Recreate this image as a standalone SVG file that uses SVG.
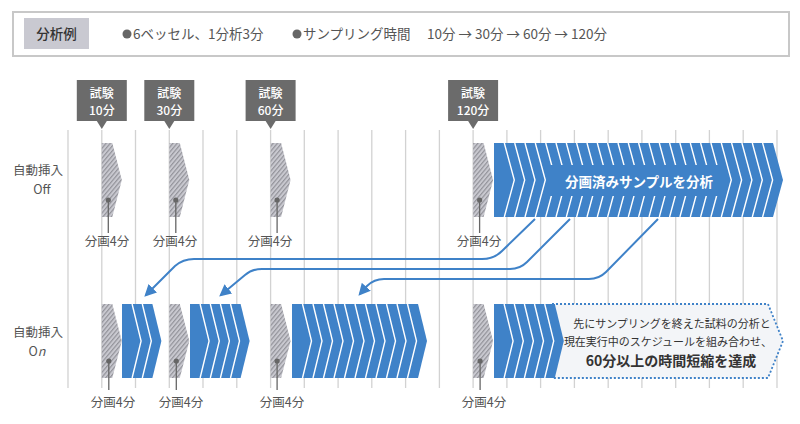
<svg xmlns="http://www.w3.org/2000/svg" width="800" height="424" viewBox="0 0 800 424">
<defs>
<pattern id="hatch" patternUnits="userSpaceOnUse" width="3.2" height="3.2" patternTransform="rotate(40)">
<rect width="3.2" height="3.2" fill="#c9c9d0"/>
<line x1="0.6" y1="0" x2="0.6" y2="3.2" stroke="#8f8f96" stroke-width="1.1"/>
</pattern>
<marker id="ah" viewBox="0 0 10 10" refX="8" refY="5" markerWidth="6" markerHeight="6" markerUnits="strokeWidth" orient="auto">
<path d="M0,0 L10,5 L0,10 z" fill="#3f82c8"/>
</marker>
<style>
text{font-family:"Noto Sans CJK JP","Noto Sans",sans-serif}
.grid line{stroke:#d2d2d2;stroke-width:1.3}
.hatch{fill:url(#hatch)}
.blue{fill:#3f82c8}
.chev{fill:none;stroke:#fff;stroke-width:1.4}
.dot{fill:#666}
.lead{stroke:#666;stroke-width:1.3}
.lbl{font-size:12.5px;fill:#555;text-anchor:middle}
.tagbox{fill:#6b6b6b}
.tagtxt{font-size:12px;fill:#fff;text-anchor:middle;font-weight:500}
.row{font-size:12.5px;fill:#555;text-anchor:middle}
.conn{fill:none;stroke:#3f82c8;stroke-width:2}
.hdr{font-size:13.5px;fill:#555}
</style>
</defs>
<rect width="800" height="424" fill="#fff"/>

<g id="header">
<rect x="13" y="12" width="776" height="44" fill="#fff" stroke="#c8c8c8" stroke-width="2"/>
<rect x="24" y="18" width="65" height="31" fill="#c9c9d1"/>
<text x="56.5" y="39" font-size="13.5" fill="#333" text-anchor="middle" font-weight="500">分析例</text>
<circle cx="127" cy="34" r="4.5" fill="#666"/>
<text x="133" y="39" class="hdr">6ベッセル、1分析3分</text>
<circle cx="297" cy="34" r="4.5" fill="#666"/>
<text x="303" y="39" class="hdr">サンプリング時間</text>
<text x="427" y="39" class="hdr">10分 → 30分 → 60分 → 120分</text>
</g>

<g class="grid" id="grid">
<line x1="68" y1="130" x2="68" y2="388"/>
<line x1="101.8" y1="130" x2="101.8" y2="388"/>
<line x1="135.5" y1="130" x2="135.5" y2="388"/>
<line x1="169.3" y1="130" x2="169.3" y2="388"/>
<line x1="203" y1="130" x2="203" y2="388"/>
<line x1="236.8" y1="130" x2="236.8" y2="388"/>
<line x1="270.6" y1="130" x2="270.6" y2="388"/>
<line x1="304.3" y1="130" x2="304.3" y2="388"/>
<line x1="338.1" y1="130" x2="338.1" y2="388"/>
<line x1="371.8" y1="130" x2="371.8" y2="388"/>
<line x1="405.6" y1="130" x2="405.6" y2="388"/>
<line x1="439.4" y1="130" x2="439.4" y2="388"/>
<line x1="473.1" y1="130" x2="473.1" y2="388"/>
<line x1="506.9" y1="130" x2="506.9" y2="388"/>
<line x1="540.6" y1="130" x2="540.6" y2="388"/>
<line x1="574.4" y1="130" x2="574.4" y2="388"/>
<line x1="608.2" y1="130" x2="608.2" y2="388"/>
<line x1="641.9" y1="130" x2="641.9" y2="388"/>
<line x1="675.7" y1="130" x2="675.7" y2="388"/>
<line x1="709.4" y1="130" x2="709.4" y2="388"/>
<line x1="743.2" y1="130" x2="743.2" y2="388"/>
<line x1="777" y1="130" x2="777" y2="388"/>
</g>

<g id="tag10">
<rect class="tagbox" x="76.8" y="80" width="50" height="41"/>
<path class="tagbox" d="M96.8,121 L106.8,121 L101.8,129 z"/>
<text class="tagtxt" x="101.8" y="97.5">試験</text>
<text class="tagtxt" x="101.8" y="115">10分</text>
</g>
<g id="tag30">
<rect class="tagbox" x="144.3" y="80" width="50" height="41"/>
<path class="tagbox" d="M164.3,121 L174.3,121 L169.3,129 z"/>
<text class="tagtxt" x="169.3" y="97.5">試験</text>
<text class="tagtxt" x="169.3" y="115">30分</text>
</g>
<g id="tag60">
<rect class="tagbox" x="245.6" y="80" width="50" height="41"/>
<path class="tagbox" d="M265.6,121 L275.6,121 L270.6,129 z"/>
<text class="tagtxt" x="270.6" y="97.5">試験</text>
<text class="tagtxt" x="270.6" y="115">60分</text>
</g>
<g id="tag120">
<rect class="tagbox" x="448.1" y="80" width="50" height="41"/>
<path class="tagbox" d="M468.1,121 L478.1,121 L473.1,129 z"/>
<text class="tagtxt" x="473.1" y="97.5">試験</text>
<text class="tagtxt" x="473.1" y="115">120分</text>
</g>

<g id="label-off">
<text class="row" x="38" y="175">自動挿入</text>
<text class="row" x="42" y="194">Off</text>
</g>
<g id="label-on">
<text class="row" x="38" y="337">自動挿入</text>
<text class="row" x="37" y="356">O<tspan font-style="italic">n</tspan></text>
</g>

<g id="frac-off-1">
<path class="hatch" d="M101.8,143 L112.3,143 L121.8,180 L112.3,217 L101.8,217 z"/>
<line class="lead" x1="108.3" y1="200" x2="108.3" y2="233"/>
<circle class="dot" cx="108.3" cy="200" r="2.6"/>
<text class="lbl" x="107" y="246">分画4分</text>
</g>
<g id="frac-off-2">
<path class="hatch" d="M169.3,143 L179.8,143 L189.3,180 L179.8,217 L169.3,217 z"/>
<line class="lead" x1="175.8" y1="200" x2="175.8" y2="233"/>
<circle class="dot" cx="175.8" cy="200" r="2.6"/>
<text class="lbl" x="175" y="246">分画4分</text>
</g>
<g id="frac-off-3">
<path class="hatch" d="M270.6,143 L281.1,143 L290.6,180 L281.1,217 L270.6,217 z"/>
<line class="lead" x1="277.1" y1="200" x2="277.1" y2="233"/>
<circle class="dot" cx="277.1" cy="200" r="2.6"/>
<text class="lbl" x="270" y="246">分画4分</text>
</g>
<g id="frac-off-4">
<path class="hatch" d="M473.1,143 L483.6,143 L493.1,180 L483.6,217 L473.1,217 z"/>
<line class="lead" x1="479.6" y1="200" x2="479.6" y2="233"/>
<circle class="dot" cx="479.6" cy="200" r="2.6"/>
<text class="lbl" x="479" y="246">分画4分</text>
</g>

<g id="analysis-off">
<path class="blue" d="M494,143 L773,143 L783,180 L773,217 L494,217 z"/>
<path class="chev" d="M504.3,143 L514.3,180 L504.3,217 M514.7,143 L524.7,180 L514.7,217 M525,143 L535,180 L525,217 M535.3,143 L545.3,180 L535.3,217 M545.7,143 L555.7,180 L545.7,217 M556,143 L566,180 L556,217 M566.3,143 L576.3,180 L566.3,217 M576.6,143 L586.6,180 L576.6,217 M587,143 L597,180 L587,217 M597.3,143 L607.3,180 L597.3,217 M607.6,143 L617.6,180 L607.6,217 M618,143 L628,180 L618,217 M628.3,143 L638.3,180 L628.3,217 M638.6,143 L648.6,180 L638.6,217 M649,143 L659,180 L649,217 M659.3,143 L669.3,180 L659.3,217 M669.6,143 L679.6,180 L669.6,217 M679.9,143 L689.9,180 L679.9,217 M690.3,143 L700.3,180 L690.3,217 M700.6,143 L710.6,180 L700.6,217 M710.9,143 L720.9,180 L710.9,217 M721.3,143 L731.3,180 L721.3,217 M731.6,143 L741.6,180 L731.6,217 M741.9,143 L751.9,180 L741.9,217 M752.3,143 L762.3,180 L752.3,217 M762.6,143 L772.6,180 L762.6,217"/>
<rect class="blue" x="549" y="165" width="175" height="31"/>
<text x="639" y="187" font-size="13.5" fill="#fff" text-anchor="middle" font-weight="600">分画済みサンプルを分析</text>
</g>

<g id="frac-on-1">
<path class="hatch" d="M101.8,304 L112.3,304 L121.8,341 L112.3,378 L101.8,378 z"/>
<line class="lead" x1="108.8" y1="361" x2="108.8" y2="390"/>
<circle class="dot" cx="108.8" cy="361" r="2.6"/>
<text class="lbl" x="113" y="407">分画4分</text>
</g>
<g id="analysis-on-1">
<path class="blue" d="M122,304 L152.4,304 L161.4,341 L152.4,378 L122,378 z"/>
<path class="chev" d="M132.1,304 L141.1,341 L132.1,378 M142.3,304 L151.3,341 L142.3,378"/>
</g>
<g id="frac-on-2">
<path class="hatch" d="M169.3,304 L179.8,304 L189.3,341 L179.8,378 L169.3,378 z"/>
<line class="lead" x1="176.3" y1="361" x2="176.3" y2="390"/>
<circle class="dot" cx="176.3" cy="361" r="2.6"/>
<text class="lbl" x="181" y="407">分画4分</text>
</g>
<g id="analysis-on-2">
<path class="blue" d="M190,304 L240.6,304 L249.6,341 L240.6,378 L190,378 z"/>
<path class="chev" d="M200.1,304 L209.1,341 L200.1,378 M210.3,304 L219.3,341 L210.3,378 M220.4,304 L229.4,341 L220.4,378 M230.5,304 L239.5,341 L230.5,378"/>
</g>
<g id="frac-on-3">
<path class="hatch" d="M270.6,304 L281.1,304 L290.6,341 L281.1,378 L270.6,378 z"/>
<line class="lead" x1="277.1" y1="361" x2="277.1" y2="390"/>
<circle class="dot" cx="277.1" cy="361" r="2.6"/>
<text class="lbl" x="282" y="407">分画4分</text>
</g>
<g id="analysis-on-3">
<path class="blue" d="M292,304 L418,304 L427,341 L418,378 L292,378 z"/>
<path class="chev" d="M302.5,304 L311.5,341 L302.5,378 M313,304 L322,341 L313,378 M323.5,304 L332.5,341 L323.5,378 M334,304 L343,341 L334,378 M344.5,304 L353.5,341 L344.5,378 M355,304 L364,341 L355,378 M365.5,304 L374.5,341 L365.5,378 M376,304 L385,341 L376,378 M386.5,304 L395.5,341 L386.5,378 M397,304 L406,341 L397,378 M407.5,304 L416.5,341 L407.5,378"/>
</g>
<g id="frac-on-4">
<path class="hatch" d="M473.1,304 L483.6,304 L493.1,341 L483.6,378 L473.1,378 z"/>
<line class="lead" x1="480.1" y1="361" x2="480.1" y2="390"/>
<circle class="dot" cx="480.1" cy="361" r="2.6"/>
<text class="lbl" x="484" y="407">分画4分</text>
</g>
<g id="result-note">
<path d="M552,304 L768,304 L783,341 L768,378 L552,378" fill="#f3f5f8" stroke="#3f82c8" stroke-width="1.8" stroke-dasharray="2 2"/>
<text x="672" y="328" font-size="11" fill="#333" text-anchor="middle">先にサンプリングを終えた試料の分析と</text>
<text x="668" y="346" font-size="11" fill="#333" text-anchor="middle">現在実行中のスケジュールを組み合わせ、</text>
<text x="671" y="366" font-size="14" fill="#333" text-anchor="middle" font-weight="700">60分以上の時間短縮を達成</text>
</g>
<g id="analysis-on-4">
<path class="blue" d="M494,304 L554.8,304 L563.8,341 L554.8,378 L494,378 z"/>
<path class="chev" d="M504.1,304 L513.1,341 L504.1,378 M514.3,304 L523.3,341 L514.3,378 M524.4,304 L533.4,341 L524.4,378 M534.5,304 L543.5,341 L534.5,378 M544.7,304 L553.7,341 L544.7,378"/>
</g>

<g id="connectors">
<path class="conn" marker-end="url(#ah)" d="M535,219 L502,251 Q494,259 482,259 L194,259 Q183,259 175,266 L146,295"/>
<path class="conn" marker-end="url(#ah)" d="M570,219 L527,262 Q520,269 510,269 L262,269 Q252,269 245,275 L221,295"/>
<path class="conn" marker-end="url(#ah)" d="M658,219 L606,272 Q599,279 589,279 L384,279 Q374,279 367,286 L360,294"/>
</g>
</svg>
